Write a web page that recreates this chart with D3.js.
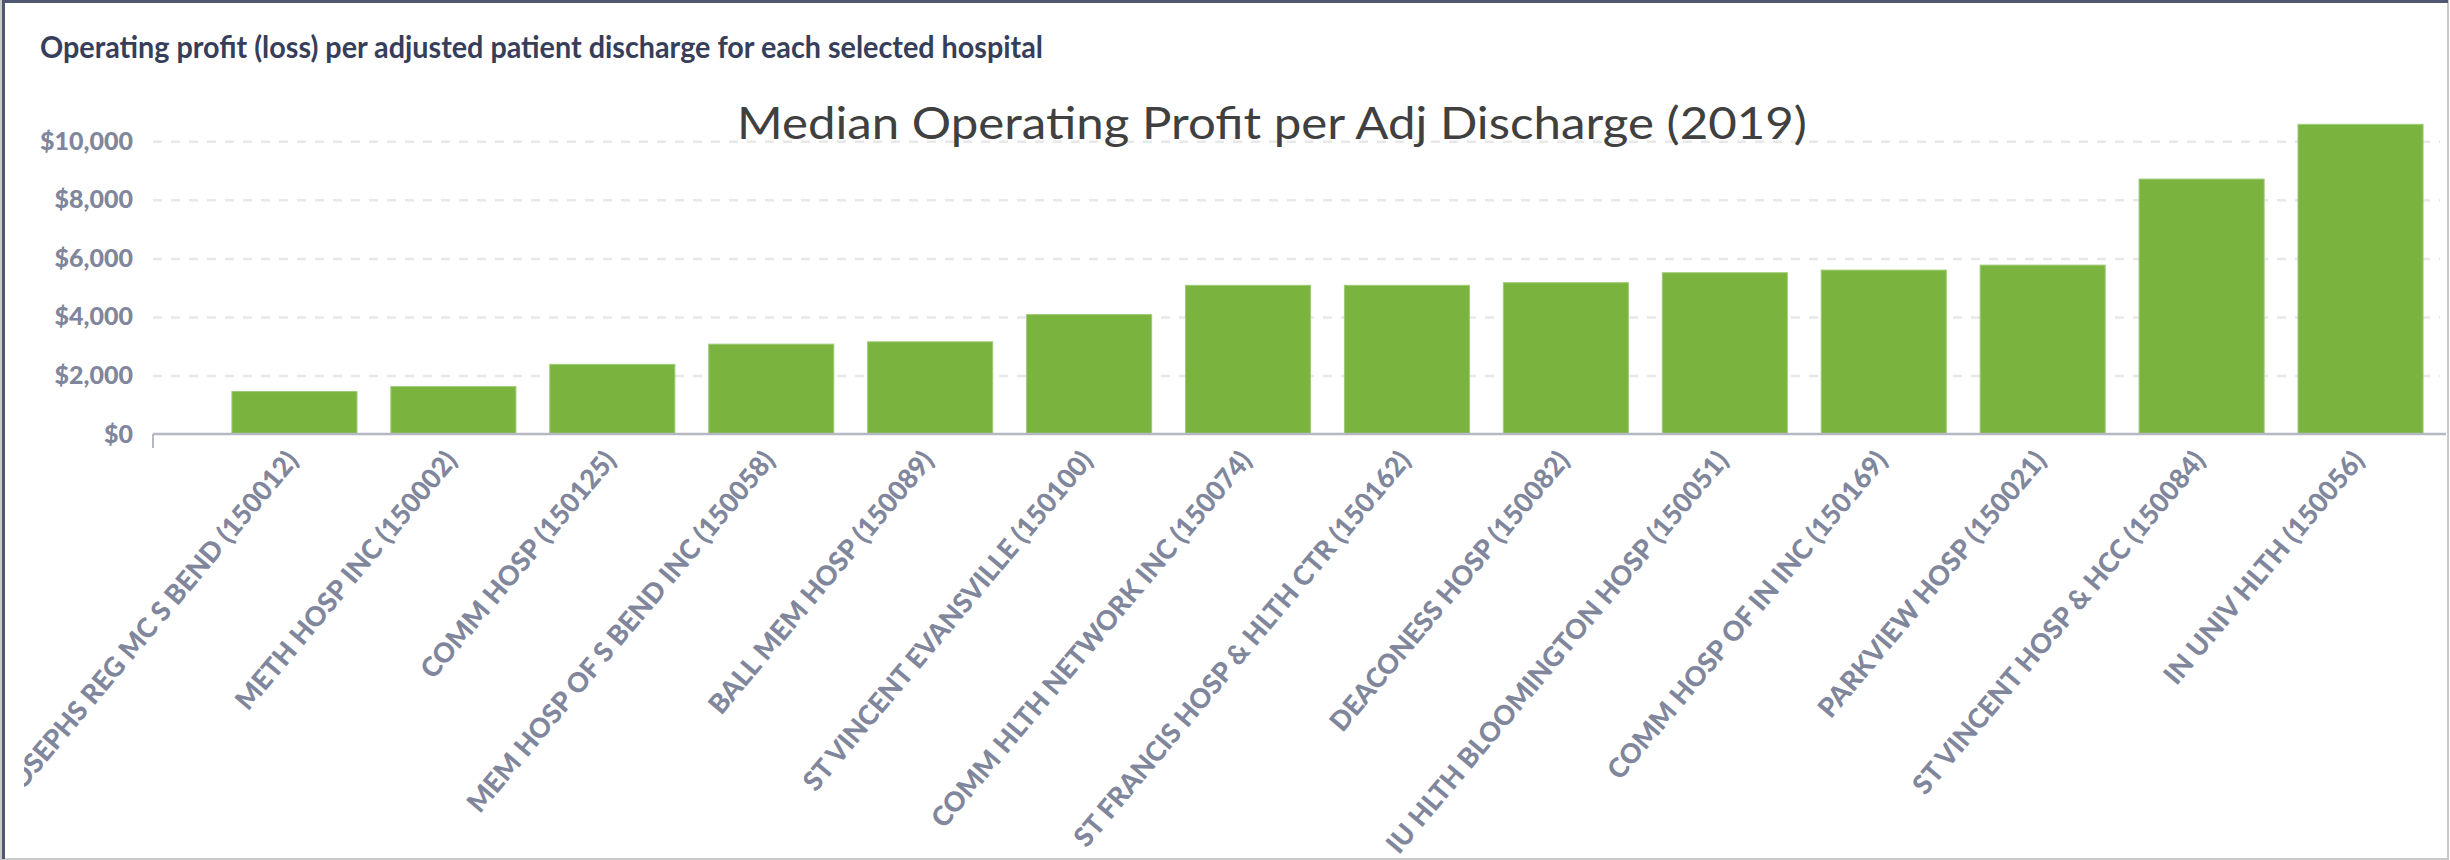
<!DOCTYPE html>
<html>
<head>
<meta charset="utf-8">
<script src="https://cdn.jsdelivr.net/npm/d3@7"></script>
<style>
  html, body { margin: 0; padding: 0; background: #fff; }
  svg { display: block; }
</style>
</head>
<body>
<div id="chart"></div>
<script>
const hospitals = [
  "ST JOSEPHS REG MC S BEND (150012)",
  "METH HOSP INC (150002)",
  "COMM HOSP (150125)",
  "MEM HOSP OF S BEND INC (150058)",
  "BALL MEM HOSP (150089)",
  "ST VINCENT EVANSVILLE (150100)",
  "COMM HLTH NETWORK INC (150074)",
  "ST FRANCIS HOSP & HLTH CTR (150162)",
  "DEACONESS HOSP (150082)",
  "IU HLTH BLOOMINGTON HOSP (150051)",
  "COMM HOSP OF IN INC (150169)",
  "PARKVIEW HOSP (150021)",
  "ST VINCENT HOSP & HCC (150084)",
  "IN UNIV HLTH (150056)"
];
const profits = [1450, 1620, 2380, 3070, 3150, 4080, 5080, 5080, 5170, 5510, 5600, 5770, 8710, 10580];
const yTicks = [0, 2000, 4000, 6000, 8000, 10000];

const width = 2450, height = 860;
const plotLeft = 153, plotRight = 2440, plotBottom = 434, plotTop10k = 141.3;

const svg = d3.select("#chart")
  .append("svg")
  .attr("width", width)
  .attr("height", height);

// labels get cut at the inner edge of the card
svg.append("clipPath")
  .attr("id", "card")
  .append("rect")
  .attr("x", 24).attr("y", 0)
  .attr("width", width - 24).attr("height", height);

// frame
svg.append("rect")
  .attr("x", 1).attr("y", 1)
  .attr("width", width - 3).attr("height", height - 2)
  .attr("fill", "none")
  .attr("stroke", "#c9c9c9")
  .attr("stroke-width", 2);
svg.append("path")
  .attr("d", `M3.5,${height - 1} L3.5,1.5 L${width - 2},1.5`)
  .attr("fill", "none")
  .attr("stroke", "#4f5873")
  .attr("stroke-width", 3);

const x = d3.scaleBand()
  .domain(hospitals)
  .range([plotLeft + 62, plotRight])
  .paddingInner(0.213)
  .paddingOuter(0.1065);

const y = d3.scaleLinear()
  .domain([0, 10000])
  .range([plotBottom, plotTop10k]);

// gridlines
const grid = svg.append("g")
  .attr("transform", `translate(${plotLeft},0)`)
  .call(d3.axisLeft(y).tickValues(yTicks.filter(d => d > 0)).tickSize(-(plotRight - plotLeft)).tickFormat(""));
grid.select(".domain").remove();
grid.selectAll("line")
  .attr("stroke", "#e8e8e8")
  .attr("stroke-width", 2.5)
  .attr("stroke-dasharray", "9,9");

// y labels
const yAxis = svg.append("g")
  .attr("transform", `translate(${plotLeft},0)`)
  .call(d3.axisLeft(y).tickValues(yTicks).tickSize(0).tickPadding(20)
    .tickFormat(d => "$" + d3.format(",")(d)));
yAxis.select(".domain").remove();
yAxis.selectAll("text")
  .attr("fill", "#80869b")
  .style("font-family", "Lato, sans-serif")
  .style("font-weight", "900")
  .style("font-size", "25px");

// bars
svg.append("g")
  .selectAll("rect")
  .data(profits)
  .enter().append("rect")
  .attr("x", (d, i) => x(hospitals[i]))
  .attr("y", d => y(d))
  .attr("width", x.bandwidth())
  .attr("height", d => y(0) - y(d))
  .attr("fill", "#7ab43e")
  .attr("stroke", "#9fcb78")
  .attr("stroke-width", 1);

// x axis
const xAxis = svg.append("g")
  .attr("clip-path", "url(#card)")
  .append("g")
  .attr("transform", `translate(0,${plotBottom})`)
  .call(d3.axisBottom(x).tickSize(0));
xAxis.select(".domain").remove();
xAxis.selectAll("text")
  .attr("x", 0).attr("y", 0).attr("dy", 0)
  .attr("transform", "translate(5,27) rotate(-50)")
  .style("text-anchor", "end")
  .attr("fill", "#80869b")
  .style("font-family", "Lato, sans-serif")
  .style("font-weight", "900")
  .style("font-size", "27px");

svg.append("line")
  .attr("x1", plotLeft).attr("x2", width - 4)
  .attr("y1", y(0)).attr("y2", y(0))
  .attr("stroke", "#b5b8c2")
  .attr("stroke-width", 2.5);
svg.append("line")
  .attr("x1", plotLeft).attr("x2", plotLeft)
  .attr("y1", y(0)).attr("y2", y(0) + 14)
  .attr("stroke", "#b5b8c2")
  .attr("stroke-width", 2);

// titles
svg.append("text")
  .attr("x", 40)
  .attr("y", 58)
  .attr("fill", "#363e5a")
  .attr("textLength", 1003)
  .attr("lengthAdjust", "spacingAndGlyphs")
  .style("font-family", "Lato, sans-serif")
  .style("font-weight", "700")
  .style("font-size", "31px")
  .text("Operating profit (loss) per adjusted patient discharge for each selected hospital");

svg.append("text")
  .attr("x", 737)
  .attr("y", 139)
  .attr("fill", "#404040")
  .attr("textLength", 1070)
  .attr("lengthAdjust", "spacingAndGlyphs")
  .style("font-family", "Lato, sans-serif")
  .style("font-size", "44px")
  .text("Median Operating Profit per Adj Discharge (2019)");
</script>
</body>
</html>
